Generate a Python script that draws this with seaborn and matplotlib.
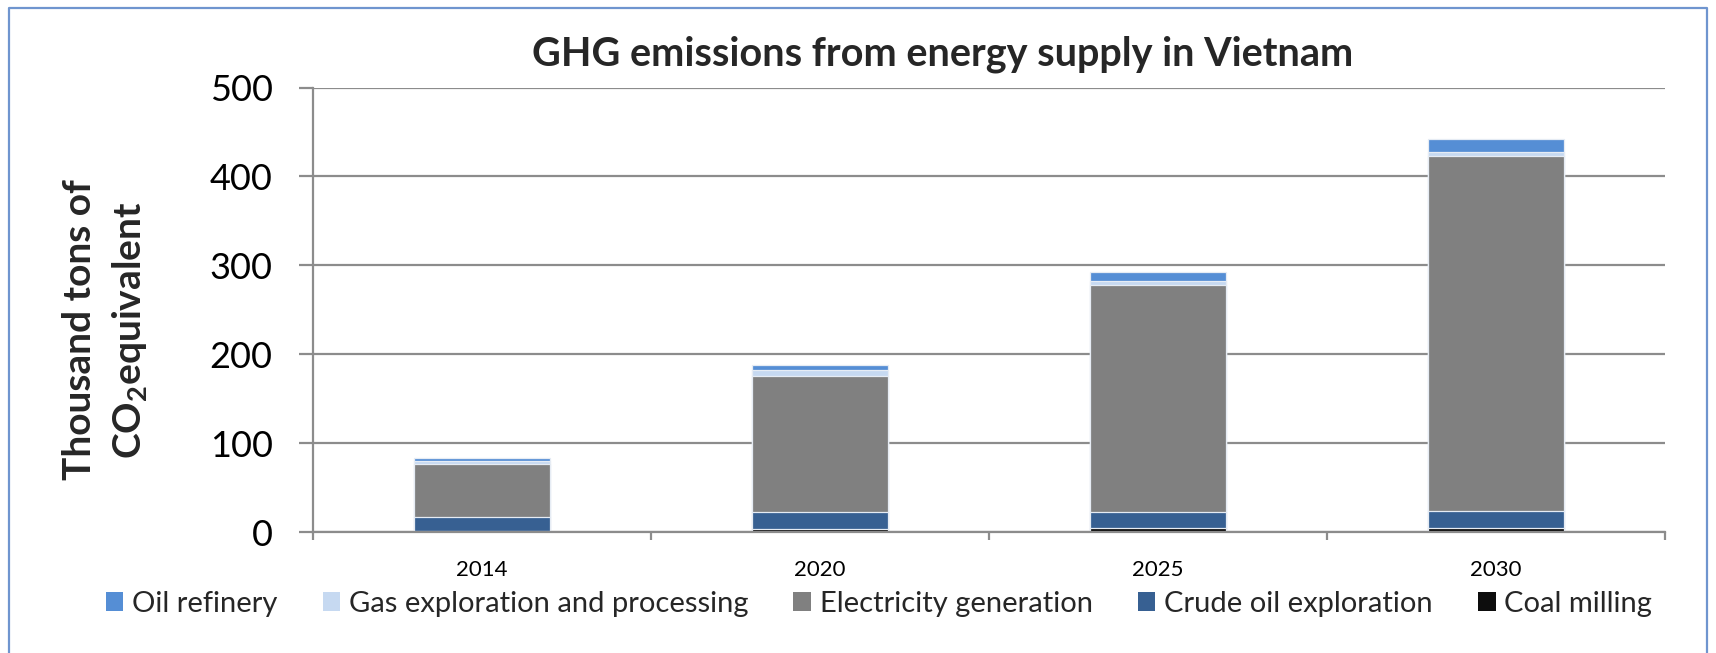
import matplotlib
matplotlib.use("Agg")
import matplotlib.pyplot as plt
from matplotlib.patches import Patch
from matplotlib.lines import Line2D
import numpy as np
import pandas as pd
import seaborn as sns

# Emission data (thousand tons CO2 equivalent)
years = ["2014", "2020", "2025", "2030"]
coal_milling = [1.0, 3.0, 4.2, 4.8]
crude_oil_exploration = [15.5, 19.0, 18.6, 19.1]
electricity_generation = [59.8, 153.4, 255.2, 399.6]
gas_exploration = [3.5, 6.4, 4.8, 4.1]
oil_refinery = [2.9, 6.4, 10.2, 14.3]

series_names = ["Coal milling", "Crude oil exploration", "Electricity generation",
                "Gas exploration and processing", "Oil refinery"]
series_values = [coal_milling, crude_oil_exploration, electricity_generation,
                 gas_exploration, oil_refinery]
series_colors = ["#0D0D0D", "#376092", "#808080", "#C6D9F1", "#558ED5"]

sns.set_theme(style="white")
plt.rcParams["font.family"] = ["Lato", "DejaVu Sans"]
plt.rcParams["mathtext.fontset"] = "custom"
plt.rcParams["mathtext.rm"] = "Lato"
plt.rcParams["mathtext.bf"] = "Lato:bold"

fig = plt.figure(figsize=(17.16, 6.53), dpi=100)
ax = fig.add_axes([313 / 1716, 1 - 532 / 653, (1665 - 313) / 1716, (532 - 87.6) / 653])

# Stacked bars: draw cumulative totals from the tallest down so each
# lower segment covers the one above it.
df = pd.DataFrame({"year": years})
cum = np.zeros(len(years))
cums = []
for vals in series_values:
    cum = cum + np.array(vals)
    cums.append(cum.copy())

for name, total, color in reversed(list(zip(series_names, cums, series_colors))):
    df[name] = total
    sns.barplot(data=df, x="year", y=name, color=color, width=0.4,
                errorbar=None, edgecolor="#E6ECF4", linewidth=0.9,
                saturation=1, ax=ax)

ax.set_xlim(-0.5, 3.5)
ax.set_ylim(0, 500)
ax.set_yticks([0, 100, 200, 300, 400, 500])
ax.set_xlabel("")
ax.set_ylabel("")

grid_color = "#8C8C8C"
ax.yaxis.grid(True, color=grid_color, linewidth=1.6)
ax.set_axisbelow(True)
for side in ["top", "right"]:
    ax.spines[side].set_visible(False)
for side in ["left", "bottom"]:
    ax.spines[side].set_color(grid_color)
    ax.spines[side].set_linewidth(1.6)

ax.tick_params(axis="y", which="major", direction="out", length=10, width=1.6,
               color=grid_color, labelsize=26, pad=19, left=True)
ax.tick_params(axis="x", which="major", length=0, labelsize=16, pad=20)
ax.set_xticks(np.arange(-0.5, 4.0, 1.0), minor=True)
ax.tick_params(axis="x", which="minor", direction="out", length=6, width=1.6,
               color=grid_color, bottom=True)
for lbl in ax.get_yticklabels() + ax.get_xticklabels():
    lbl.set_color("black")

fig.text(943 / 1716, 1 - 54 / 653, "GHG emissions from energy supply in Vietnam",
         ha="center", va="center", fontsize=28.5, fontweight="bold")

fig.text(106 / 1716, 1 - 330 / 653,
         "Thousand tons of\nCO$_\\mathbf{2}$equivalent",
         rotation=90, ha="center", va="center", fontsize=28, fontweight="bold",
         multialignment="center", linespacing=1.45)

# Legend in the original order
legend_order = [4, 3, 2, 1, 0]
handles = [Patch(facecolor=series_colors[i], edgecolor="none") for i in legend_order]
labels = [series_names[i] for i in legend_order]
fig.legend(handles, labels, loc="center left", ncol=5,
           bbox_to_anchor=(94 / 1716, 1 - 604 / 653), frameon=False,
           fontsize=21, handlelength=0.6, handleheight=0.6,
           handletextpad=0.3, columnspacing=1.55, borderaxespad=0)

# Chart frame
frame_color = "#6F95CF"
fx0, fx1 = 9 / 1716, 1 - 9 / 1716
fy1 = 1 - 7.5 / 653
fig.add_artist(Line2D([fx0, fx0, fx1, fx1], [0, fy1, fy1, 0],
                      transform=fig.transFigure, color=frame_color, linewidth=1.6))

fig.savefig("out.png", dpi=100)
